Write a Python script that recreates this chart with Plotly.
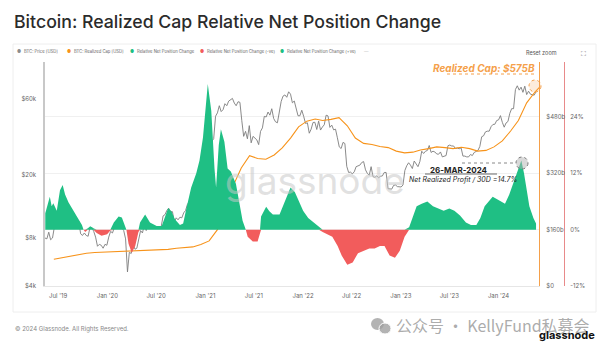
import numpy as np
import pandas as pd
import plotly.graph_objects as go

# ---------------- data ----------------
price_start = "2019-05-13"   # weekly closes from this Monday
price_2019 = [8000, 7900, 8700, 7800, 8000, 9300, 11000, 10600, 12300, 9700, 9900, 9600,
              11800, 10300, 10200, 10100, 10600, 10300, 10200, 8500, 8300, 8600, 8300, 8200,
              9300, 9300, 8800, 8100, 7100, 7300, 7200, 6900, 7300, 7200]
price_2020 = [8100, 8800, 8600, 9300, 9700, 10300, 9700, 9300, 8900, 7900, 4900, 6500, 6400,
              7300, 6800, 6900, 7700, 8900, 8600, 9700, 8900, 10200, 9700, 9400, 9300, 9200,
              9300, 9200, 9400, 11000, 11200, 11900, 12300, 11700, 11700, 10100, 10700, 10400,
              10800, 10700, 11500, 11900, 13000, 13500, 15300, 16700, 18400, 19700, 19200,
              19300, 23800, 27000]
price_2021 = [31900, 35500, 36600, 32300, 33500, 46400, 48700, 54000, 49600, 51000, 55600,
              54000, 57700, 58700, 60000, 56100, 54000, 57200, 56700, 43500, 34700, 37300,
              33500, 40500, 31600, 34700, 33800, 33000, 30800, 37300, 39200, 46300, 45900,
              49300, 47100, 51700, 44900, 42800, 42200, 49100, 57400, 62000, 63100, 61000,
              66000, 63800, 56300, 57800, 50600, 46700, 46700, 50600]
price_2022 = [46400, 41800, 42200, 36300, 38500, 42400, 42500, 38300, 43200, 38000, 39700,
              41000, 47100, 46600, 39500, 40800, 38100, 38500, 34000, 29800, 29100, 31800,
              31300, 22500, 20600, 20700, 20200, 20800, 22400, 22600, 22900, 23800, 24100,
              21400, 20300, 19800, 22400, 19400, 19200, 19600, 19100, 19500, 19600, 20600,
              20600, 16300, 16300, 16200, 17100, 17200, 16800, 16700]
price_2023 = [16700, 17200, 21200, 22700, 23700, 22900, 21800, 24300, 23500, 22400, 24100,
              28000, 27100, 28000, 28300, 30400, 27500, 28000, 27700, 26900, 26800, 27700,
              25800, 26000, 26300, 30300, 30600, 30200, 30200, 29100, 29300, 29000, 29400,
              26100, 26100, 25800, 25800, 26700, 26300, 27500, 27900, 28300, 30000, 34500,
              35000, 37000, 37400, 37400, 39900, 41200, 41300, 43600]
price_2024 = [44000, 46800, 42500, 39600, 42100, 43000, 48400, 51800, 51700, 68300, 72000,
              67600, 70600, 65500, 71600, 63400, 66600, 63800, 63200, 62900, 66000]

rcap_start = "2019-05-15"    # monthly, USD billions
rcap_values = [76, 80, 86, 90, 93, 95, 96, 97,
               98, 100, 101, 100, 101, 102, 104, 107, 109, 111, 118, 128,
               160, 215, 285, 335, 370, 362, 360, 372, 392, 420, 452, 468,
               474, 470, 473, 478, 455, 420, 405, 402, 396, 393, 383, 378,
               380, 386, 390, 395, 393, 390, 394, 390, 383, 385, 395, 412,
               440, 470, 520, 550, 575]

net_dates = ["2019-05-14", "2019-05-20", "2019-05-31", "2019-06-07", "2019-06-13", "2019-06-26",
             "2019-07-08", "2019-07-18", "2019-07-27", "2019-08-09", "2019-08-21", "2019-09-09",
             "2019-09-28", "2019-10-04", "2019-10-10", "2019-10-20", "2019-10-29", "2019-11-10",
             "2019-11-22", "2019-12-10", "2019-12-31", "2020-01-12", "2020-01-25", "2020-02-12",
             "2020-02-24", "2020-03-04", "2020-03-12", "2020-03-20", "2020-04-01", "2020-04-14",
             "2020-04-26", "2020-05-02", "2020-05-21", "2020-06-08", "2020-07-03", "2020-07-22",
             "2020-08-03", "2020-08-15", "2020-08-28", "2020-09-09", "2020-09-28", "2020-10-10",
             "2020-10-22", "2020-11-09", "2020-11-28", "2020-12-10", "2020-12-23", "2021-01-04",
             "2021-01-10", "2021-01-23", "2021-01-29", "2021-02-04", "2021-02-10", "2021-02-20",
             "2021-02-28", "2021-03-13", "2021-03-25", "2021-04-06", "2021-04-25", "2021-05-08",
             "2021-05-20", "2021-06-01", "2021-06-08", "2021-06-27", "2021-07-15", "2021-07-24",
             "2021-07-28", "2021-08-16", "2021-08-28", "2021-09-10", "2021-10-05", "2021-10-30",
             "2021-11-15", "2021-12-01", "2021-12-15", "2022-01-01", "2022-01-20", "2022-02-10",
             "2022-03-01", "2022-03-15", "2022-04-01", "2022-04-20", "2022-05-10", "2022-05-25",
             "2022-06-15", "2022-07-05", "2022-07-25", "2022-08-15", "2022-09-05", "2022-09-25",
             "2022-10-15", "2022-11-01", "2022-11-20", "2022-12-10", "2022-12-28", "2023-01-15",
             "2023-02-01", "2023-02-15", "2023-03-01", "2023-03-20", "2023-04-10", "2023-05-01",
             "2023-05-20", "2023-06-10", "2023-07-01", "2023-07-20", "2023-08-10", "2023-09-01",
             "2023-09-20", "2023-10-10", "2023-10-25", "2023-11-10", "2023-11-25", "2023-12-10",
             "2023-12-25", "2024-01-10", "2024-01-25", "2024-02-10", "2024-02-25", "2024-03-10",
             "2024-03-26", "2024-04-05", "2024-04-15", "2024-04-25", "2024-05-10", "2024-05-20"]
net_values = [3.5, 4.9, 7.0, 5.0, 5.6, 4.0,
              8.4, 9.5, 7.5, 5.8, 4.7, 3.0,
              1.0, 0.0, -0.5, 0.3, 0.7, 0.3,
              -0.7, -1.3, -1.0, -0.2, 1.5, 2.8,
              2.6, 1.2, 0.0, -3.0, -4.9, -3.5,
              -0.5, 1.5, 3.2, 1.5, 0.8, 0.8,
              2.5, 4.6, 3.8, 2.2, 1.0, 1.3,
              4.5, 9.0, 12.0, 14.7, 19.6, 27.4,
              31.0, 25.3, 18.0, 13.0, 9.0, 18.0,
              21.4, 18.7, 13.0, 12.4, 9.8, 6.1,
              1.9, 0.0, -1.5, -2.5, -2.5, -0.5,
              2.8, 4.9, 3.9, 3.2, 3.2, 7.0,
              9.0, 8.0, 6.0, 4.0, 2.5, 1.5,
              0.5, -0.5, -1.0, -1.5, -3.5, -5.5,
              -7.5, -7.0, -5.0, -4.5, -4.0, -4.0,
              -3.5, -3.5, -5.5, -6.0, -4.5, -1.5,
              0.5, 3.0, 5.0, 5.5, 6.0, 5.0,
              4.5, 4.0, 4.5, 4.0, 3.0, 1.5,
              1.0, 1.0, 2.5, 5.0, 6.0, 7.0,
              6.5, 6.0, 5.5, 7.5, 10.0, 12.5,
              14.7, 12.0, 8.0, 5.0, 2.5, 1.3]

x_tick_dates = ["2019-07-01", "2020-01-01", "2020-07-01", "2021-01-01", "2021-07-01",
                "2022-01-01", "2022-07-01", "2023-01-01", "2023-07-01", "2024-01-01"]
x_tick_text = ["Jul '19", "Jan '20", "Jul '20", "Jan '21", "Jul '21",
               "Jan '22", "Jul '22", "Jan '23", "Jul '23", "Jan '24"]
price_ticks = [4000, 8000, 20000, 60000]
price_tick_text = ["$4k", "$8k", "$20k", "$60k"]
rcap_ticks = [0, 160, 320, 480]
rcap_tick_text = ["$0", "$160b", "$320b", "$480b"]
pct_ticks = [-12, 0, 12, 24]
pct_tick_text = ["-12%", "0%", "12%", "24%"]

# ---------------- build ----------------
price = price_2019 + price_2020 + price_2021 + price_2022 + price_2023 + price_2024
price_dates = pd.date_range(price_start, periods=len(price), freq="7D")
rcap_dates = pd.date_range(rcap_start, periods=len(rcap_values), freq="MS") + pd.Timedelta(days=14)
net = np.array(net_values)
net_pos = np.clip(net, 0, None)
net_neg = np.clip(net, None, 0)

W, H = 607, 350
L, R, T, B = 45, 20, 62, 64
PW, PH = W - L - R, H - T - B


def px(x):
    return (x - L) / PW


def py(y):
    return (H - B - y) / PH


GREEN = "#1fbf84"
RED = "#f25c5c"
ORANGE = "#f7931a"
GRAY_LINE = "#7d7d7d"
FONT = "Inter"

fig = go.Figure()
# price (primary axis, drawn first), realized cap (overlay), net position areas (overlay, on top)
fig.add_trace(go.Scatter(x=price_dates, y=price, mode="lines", line=dict(width=0.9, color=GRAY_LINE),
                         yaxis="y", name="BTC: Price [USD]"))
fig.add_trace(go.Scatter(x=rcap_dates, y=rcap_values, mode="lines", line=dict(width=1.1, color=ORANGE),
                         yaxis="y2", name="BTC: Realized Cap [USD]"))
fig.add_trace(go.Scatter(x=net_dates, y=net_pos, mode="lines", line=dict(width=0, color=GREEN),
                         fill="tozeroy", fillcolor=GREEN, yaxis="y3", hoverinfo="skip",
                         name="Relative Net Position Change (+ve)"))
fig.add_trace(go.Scatter(x=net_dates, y=net_neg, mode="lines", line=dict(width=0, color=RED),
                         fill="tozeroy", fillcolor=RED, yaxis="y3", hoverinfo="skip",
                         name="Relative Net Position Change (-ve)"))

xdom_end = px(539)
tickfont = dict(family=FONT, size=6, color="#666")

fig.update_layout(
    width=W, height=H, margin=dict(l=L, r=R, t=T, b=B),
    paper_bgcolor="white", plot_bgcolor="white", showlegend=False,
    font=dict(family=FONT),
    xaxis=dict(domain=[0, xdom_end], range=["2019-05-13", "2024-05-31"], tickvals=x_tick_dates,
               ticktext=x_tick_text, tickfont=tickfont, showgrid=False, zeroline=False,
               showline=True, linecolor="#e6e6e6", linewidth=1, ticks="", ticklabelstandoff=4),
    yaxis=dict(side="left", anchor="x", type="log",
               range=[np.log10(4000), np.log10(101500)], tickvals=price_ticks,
               ticktext=price_tick_text, tickfont=tickfont, showgrid=False, zeroline=False,
               showline=True, linecolor="#c8c8c8", linewidth=1.5, ticks="", ticklabelstandoff=6),
    yaxis2=dict(overlaying="y", side="right", anchor="x", range=[0, 636], tickvals=rcap_ticks,
                ticktext=rcap_tick_text, tickfont=tickfont, showgrid=True, gridcolor="#f0f0f0",
                gridwidth=1, zeroline=False, showline=True, linecolor="#f5a04a", linewidth=1.2,
                ticks="", ticklabelstandoff=5),
    yaxis3=dict(overlaying="y", anchor="free", position=px(564), side="right", range=[-12, 35.7],
                tickvals=pct_ticks, ticktext=pct_tick_text, tickfont=tickfont,
                showgrid=False, zeroline=False, showline=True, linecolor="#e88a8a", linewidth=1.2,
                ticks="", ticklabelstandoff=4),
)

# card frame
fig.add_shape(type="rect", xref="paper", yref="paper", x0=px(13), x1=px(596), y0=py(312), y1=py(44),
              line=dict(color="#eeeeee", width=1), fillcolor="rgba(0,0,0,0)", layer="below")

ann = []
# title
ann.append(dict(text="Bitcoin: Realized Cap Relative Net Position Change", x=px(12), y=py(22),
                xanchor="left", yanchor="middle",
                font=dict(family=FONT, size=17.7, color="#2b2b2b", weight=500)))
# legend row
legend_items = [(19, "#8c8c8c", "BTC: Price [USD]"), (69, ORANGE, "BTC: Realized Cap [USD]"),
                (132, GREEN, "Relative Net Position Change"),
                (202, RED, "Relative Net Position Change (-ve)"),
                (282, GREEN, "Relative Net Position Change (+ve)")]
for xx, col, lab in legend_items:
    ann.append(dict(text="●", x=px(xx), y=py(52), xanchor="center", yanchor="middle",
                    font=dict(size=4.5, color=col)))
    ann.append(dict(text=lab, x=px(xx + 3), y=py(52), xanchor="left", yanchor="middle",
                    font=dict(family=FONT, size=4.2, color="#666")))
ann.append(dict(text="—", x=px(367), y=py(52), xanchor="center", yanchor="middle",
                font=dict(size=4.5, color="#bbb")))
ann.append(dict(text="Reset zoom", x=px(541), y=py(53), xanchor="center", yanchor="middle",
                font=dict(family=FONT, size=5.5, color="#555")))
ann.append(dict(text="⛶", x=px(583), y=py(53), xanchor="center", yanchor="middle",
                font=dict(size=7, color="#777")))
# watermark
ann.append(dict(text="glassnode", x=px(315), y=py(180), xanchor="center", yanchor="middle",
                font=dict(family=FONT, size=37, color="rgba(200,200,200,0.55)")))
# realized cap callout
ann.append(dict(text="<b><i>Realized Cap: $575B</i></b>", x=px(484), y=py(68), xanchor="center",
                yanchor="middle", font=dict(family=FONT, size=10, color="#f5a04a")))
# net realized profit callout
ann.append(dict(text="<b>26-MAR-2024</b>", x=px(459), y=py(170), xanchor="center", yanchor="middle",
                font=dict(family=FONT, size=8, color="#222")))
ann.append(dict(text="<i>Net Realized Profit / 30D =14.7%</i>", x=px(463), y=py(179), xanchor="center",
                yanchor="middle", font=dict(family=FONT, size=7, color="#222")))
# footer
ann.append(dict(text="© 2024 Glassnode. All Rights Reserved.", x=px(13), y=py(329), xanchor="left",
                yanchor="middle", font=dict(family=FONT, size=6, color="#888")))
ann.append(dict(text="公众号 · KellyFund私募会", x=px(394), y=py(325), xanchor="left", yanchor="middle",
                font=dict(family="Noto Sans CJK SC", size=16, color="rgba(150,150,150,0.8)")))
ann.append(dict(text="<b>glassnode</b>", x=px(597), y=py(335), xanchor="right", yanchor="middle",
                font=dict(family=FONT, size=11, color="#111")))
for a in ann:
    a.update(xref="paper", yref="paper", showarrow=False)
fig.update_layout(annotations=ann)

# wechat-style icon next to the watermark
fig.add_shape(type="circle", xref="paper", yref="paper", x0=px(371), x1=px(384), y0=py(330), y1=py(318),
              line=dict(width=0), fillcolor="rgba(160,160,160,0.8)")
fig.add_shape(type="circle", xref="paper", yref="paper", x0=px(379), x1=px(391), y0=py(334), y1=py(323),
              line=dict(color="white", width=1), fillcolor="rgba(160,160,160,0.8)")

# dotted guides and circles
fig.add_shape(type="line", xref="paper", yref="paper", x0=px(447), x1=px(535), y0=py(74), y1=py(74),
              line=dict(color="#f5a04a", width=1, dash="dot"))
fig.add_shape(type="circle", xref="paper", yref="paper", x0=px(529), x1=px(541), y0=py(80), y1=py(92),
              line=dict(color="#f5a04a", width=1, dash="dot"), fillcolor="rgba(245,160,74,0.2)")
fig.add_shape(type="line", xref="paper", yref="paper", x0=px(462), x1=px(516), y0=py(163), y1=py(163),
              line=dict(color="#888", width=1, dash="dot"))
fig.add_shape(type="circle", xref="paper", yref="paper", x0=px(516), x1=px(528), y0=py(157), y1=py(169),
              line=dict(color="#777", width=1, dash="dot"), fillcolor="rgba(180,180,180,0.5)")
fig.add_shape(type="line", xref="paper", yref="paper", x0=px(425), x1=px(497), y0=py(174), y1=py(174),
              line=dict(color="#444", width=0.8))

fig.write_html("out.html")
